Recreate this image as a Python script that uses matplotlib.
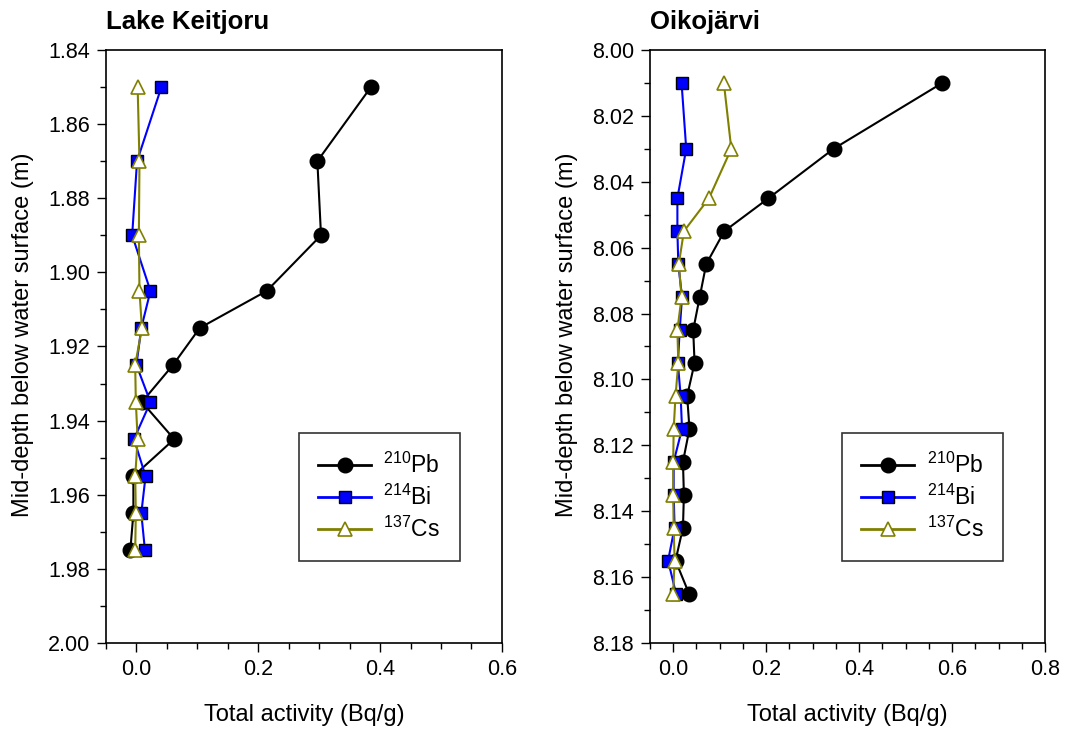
#!/usr/bin/env python3

# plot_profiles.py
# Depth profiles of total activity for two lake sediment cores.

import matplotlib
matplotlib.use("Agg")
import matplotlib.pyplot as plt
from matplotlib.ticker import MultipleLocator, FormatStrFormatter

plt.rcParams['font.family'] = ['Liberation Sans', 'DejaVu Sans']
plt.rcParams['mathtext.fontset'] = 'custom'
plt.rcParams['mathtext.rm'] = 'Liberation Sans'

# Lake Keitjoru core (depth in m, activity in Bq/g)
keit_depth = [1.85, 1.87, 1.89, 1.905, 1.915, 1.925, 1.935, 1.945, 1.955, 1.965, 1.975]
keit_pb210 = [0.385, 0.297, 0.303, 0.214, 0.104, 0.060, 0.009, 0.062, -0.005, -0.005, -0.010]
keit_bi214 = [0.041, 0.001, -0.007, 0.023, 0.008, 0.000, 0.023, -0.004, 0.015, 0.008, 0.014]
keit_cs137 = [0.002, 0.005, 0.004, 0.005, 0.009, -0.002, -0.001, 0.002, -0.002, -0.001, -0.002]

# Oikojärvi core
oiko_depth = [8.01, 8.03, 8.045, 8.055, 8.065, 8.075, 8.085, 8.095,
              8.105, 8.115, 8.125, 8.135, 8.145, 8.155, 8.165]
oiko_pb210 = [0.579, 0.345, 0.205, 0.110, 0.071, 0.057, 0.043, 0.046,
              0.030, 0.035, 0.021, 0.023, 0.021, 0.005, 0.034]
oiko_bi214 = [0.018, 0.028, 0.009, 0.009, 0.011, 0.019, 0.014, 0.010,
              0.016, 0.019, 0.001, 0.001, 0.003, -0.011, 0.006]
oiko_cs137 = [0.109, 0.125, 0.077, 0.023, 0.012, 0.018, 0.009, 0.011,
              0.005, 0.001, 0.000, 0.000, 0.001, 0.003, 0.000]

series_labels = [r'$^{210}$Pb', r'$^{214}$Bi', r'$^{137}$Cs']


def draw_core(ax, title, depth, pb, bi, cs, ylim, xmax):
    """Draw one depth profile panel"""
    ax.plot(pb, depth, '-o', color='black', lw=1.5, ms=10.5,
            mfc='black', mec='black', label=series_labels[0])
    ax.plot(bi, depth, '-s', color='#0000ff', lw=1.5, ms=9,
            mfc='#0000ff', mec='black', mew=1.0, label=series_labels[1])
    ax.plot(cs, depth, '-^', color='#808000', lw=1.5, ms=10.5,
            mfc='white', mec='#808000', mew=1.2, label=series_labels[2])

    ax.set_xlim(-0.05, xmax)
    ax.set_ylim(ylim[1], ylim[0])

    ax.xaxis.set_major_locator(MultipleLocator(0.2))
    ax.xaxis.set_minor_locator(MultipleLocator(0.05))
    ax.xaxis.set_major_formatter(FormatStrFormatter('%.1f'))
    ax.yaxis.set_major_locator(MultipleLocator(0.02))
    ax.yaxis.set_minor_locator(MultipleLocator(0.01))
    ax.yaxis.set_major_formatter(FormatStrFormatter('%.2f'))

    ax.tick_params(which='both', direction='out', top=False, right=False,
                   labelsize=15.5, width=1.0)
    ax.tick_params(which='major', length=6.5, pad=5)
    ax.tick_params(which='minor', length=4.3)
    for sp in ax.spines.values():
        sp.set_linewidth(1.2)

    ax.set_xlabel('Total activity (Bq/g)', fontsize=17, labelpad=17)
    ax.set_ylabel('Mid-depth below water surface (m)', fontsize=17)
    ax.yaxis.set_label_coords(-0.183, 0.52)
    ax.set_title(title, loc='left', fontsize=18.5, fontweight='bold', pad=15)

    leg = ax.legend(loc='center', bbox_to_anchor=(0.69, 0.246), fontsize=16.5,
                    frameon=True, fancybox=False, edgecolor='black',
                    handlelength=2.3, handletextpad=0.55, labelspacing=0.3,
                    borderpad=0.85, borderaxespad=0)
    leg.get_frame().set_linewidth(1.2)
    for line in leg.get_lines():
        line.set_linewidth(2.0)


def main():
    fig = plt.figure(figsize=(10.65, 7.29), dpi=100)
    ax1 = fig.add_axes([0.0995, 0.118, 0.3718, 0.8134])
    ax2 = fig.add_axes([0.6103, 0.118, 0.3709, 0.8134])

    draw_core(ax1, 'Lake Keitjoru', keit_depth, keit_pb210, keit_bi214,
              keit_cs137, (1.84, 2.00), 0.6)
    draw_core(ax2, 'Oikojärvi', oiko_depth, oiko_pb210, oiko_bi214,
              oiko_cs137, (8.00, 8.18), 0.8)

    fig.savefig('out.png', dpi=100)
    print("Plot saved to out.png")


if __name__ == "__main__":
    main()
